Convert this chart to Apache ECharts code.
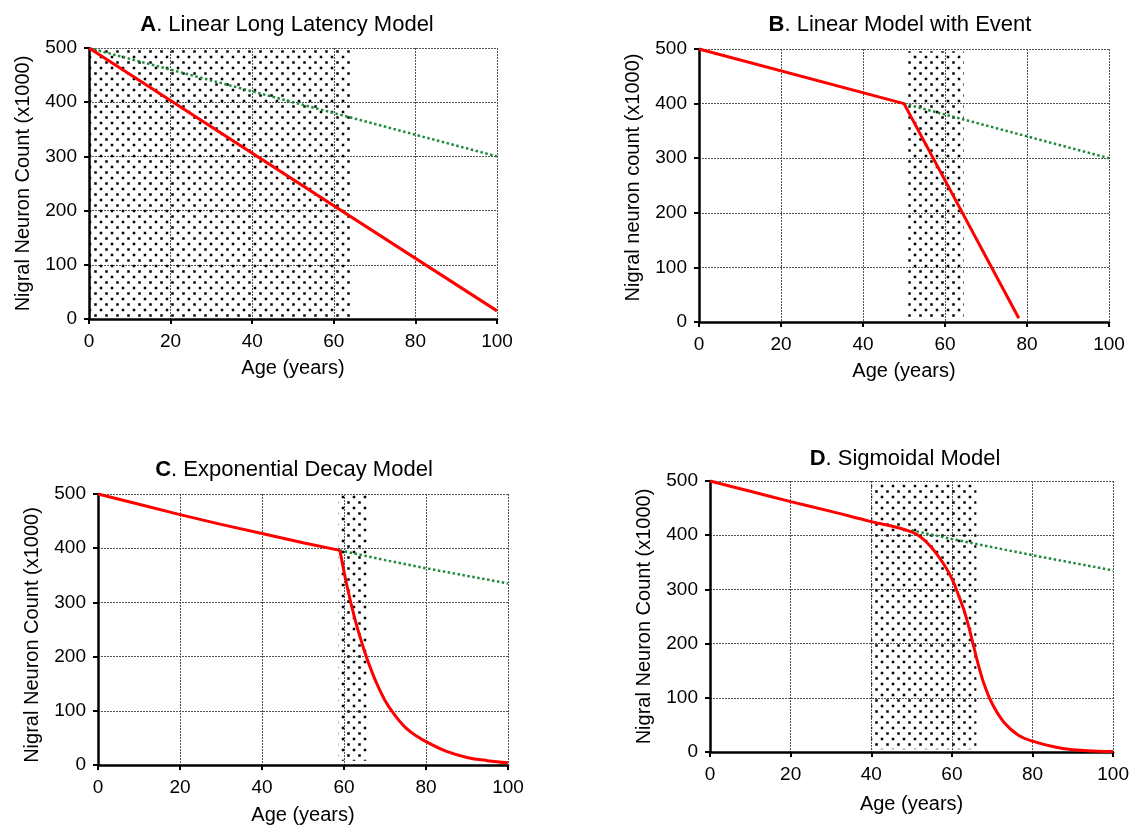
<!DOCTYPE html>
<html lang="en">
<head>
<meta charset="UTF-8">
<title>Nigral neuron loss models</title>
<script src="https://cdn.jsdelivr.net/npm/echarts@6.0.0/dist/echarts.min.js"></script>
<style>
    html, body { margin: 0; padding: 0; background: #fff; }
    #main { width: 1132px; height: 826px; }
</style>
</head>
<body>
<div id="main"></div>
<script type="text/javascript">
    // titles and axis texts
    var panelLetters = ['A', 'B', 'C', 'D'];
    var panelTitles = ['. Linear Long Latency Model', '. Linear Model with Event', '. Exponential Decay Model', '. Sigmoidal Model'];
    var yNames = ['Nigral Neuron Count (x1000)', 'Nigral neuron count (x1000)', 'Nigral Neuron Count (x1000)', 'Nigral Neuron Count (x1000)'];
    var xName = 'Age (years)';
    var xTicks = [0, 20, 40, 60, 80, 100];
    var yTicks = [0, 100, 200, 300, 400, 500];

    // A. linear long latency
    var redAgeA = [0, 100];
    var redValA = [500, 15];
    var greenAgeA = [0, 100];
    var greenValA = [500, 300];
    var shadeA = [0, 64, 3, 500];   // age from, age to, count from, count to

    // B. linear with event
    var redAgeB = [0, 50, 78];
    var redValB = [500, 400, 7];
    var greenAgeB = [50, 100];
    var greenValB = [400, 300];
    var shadeB = [51, 64.6, 5, 496];

    // C. exponential decay (before and after the event)
    var redAgeC1 = [0, 10, 20, 30, 40, 50, 59];
    var redValC1 = [500, 481, 462, 444, 427, 410, 396];
    var redAgeC2 = [59, 60, 61, 62, 63, 64, 65, 66, 68, 70, 72, 75, 78, 80, 85, 90, 95, 100];
    var redValC2 = [396, 357, 321, 289, 260, 234, 210, 188, 150, 119, 96, 69, 52, 43, 25, 14, 8, 4];
    var greenAgeC = [59, 70, 80, 90, 100];
    var greenValC = [396, 378, 363, 349, 335];
    var shadeC = [58.7, 66, 8, 499];

    // D. sigmoidal
    var redAgeD = [0, 10, 20, 30, 40, 45, 50, 52.5, 55, 57.5, 60, 62, 63, 64, 65, 66, 67, 68, 70, 73, 76.5, 80, 85, 90, 95, 100];
    var redValD = [500, 481, 462, 444, 425, 417, 406, 395, 377, 352, 320, 282, 262, 236, 207, 177, 149, 125, 89, 54, 31, 20, 10, 4, 2, 1];
    var greenAgeD = [50, 60, 70, 80, 90, 100];
    var greenValD = [409, 393, 378, 363, 349, 335];
    var shadeD = [40, 66.1, 5, 494];

    var FONT = '"Liberation Sans", Arial, sans-serif';
    var RED = '#ff0000';
    var GREEN = '#1f8a3c';

    // dotted fill used for the shaded age windows
    var tile = document.createElement('canvas');
    tile.width = 11;
    tile.height = 11;
    var tctx = tile.getContext('2d');
    tctx.fillStyle = '#000';
    tctx.fillRect(0.75, 0.75, 2.5, 2.5);
    tctx.fillRect(6.25, 6.25, 2.5, 2.5);

    function pairs(ages, vals) {
        var out = [];
        for (var i = 0; i < ages.length; i++) {
            out.push([ages[i], vals[i]]);
        }
        return out;
    }

    // pixel boxes of the four plots
    var grids = [
        {left: 89, top: 48, width: 408, height: 271},
        {left: 699, top: 49, width: 410, height: 273},
        {left: 98, top: 494, width: 410, height: 271},
        {left: 710, top: 481, width: 406, height: 271}
    ];
    var titlePos = [[287, 25], [900, 25], [294, 470], [905, 459]];
    var yNamePad = [[0, 0, 0, 0], [0, 0, 0, 16], [0, 11, 0, 0], [0, 0, 0, 0]];
    var xNameGap = [39, 39, 40, 42];

    var titles = [], xAxes = [], yAxes = [];
    for (var i = 0; i < 4; i++) {
        titles.push({
            text: '{b|' + panelLetters[i] + '}' + panelTitles[i],
            left: titlePos[i][0],
            top: titlePos[i][1],
            textAlign: 'center',
            textVerticalAlign: 'middle',
            padding: 0,
            textStyle: {
                fontFamily: FONT, fontSize: 22, fontWeight: 'normal', color: '#000',
                rich: {b: {fontFamily: FONT, fontSize: 22, fontWeight: 'bold', color: '#000'}}
            }
        });
        xAxes.push({
            type: 'value', gridIndex: i,
            min: xTicks[0], max: xTicks[xTicks.length - 1], interval: xTicks[1] - xTicks[0],
            name: xName, nameLocation: 'middle', nameGap: xNameGap[i],
            nameTextStyle: {fontFamily: FONT, fontSize: 20, color: '#000'},
            axisLine: {show: true, onZero: false, lineStyle: {color: '#000', width: 2.5}},
            axisTick: {show: true, length: 5, lineStyle: {color: '#000', width: 2}},
            axisLabel: {fontFamily: FONT, fontSize: 19, color: '#000', margin: 13,
                showMinLabel: true, showMaxLabel: true, hideOverlap: false},
            splitLine: {show: true, lineStyle: {type: [2, 1], color: '#555', width: 1}}
        });
        yAxes.push({
            type: 'value', gridIndex: i,
            min: yTicks[0], max: yTicks[yTicks.length - 1], interval: yTicks[1] - yTicks[0],
            name: yNames[i], nameLocation: 'middle', nameGap: 56,
            nameTextStyle: {fontFamily: FONT, fontSize: 20, color: '#000', padding: yNamePad[i]},
            axisLine: {show: true, onZero: false, lineStyle: {color: '#000', width: 2.5}},
            axisTick: {show: true, length: 5, lineStyle: {color: '#000', width: 2}},
            axisLabel: {fontFamily: FONT, fontSize: 19, color: '#000', margin: 12,
                showMinLabel: true, showMaxLabel: true, hideOverlap: false},
            splitLine: {show: true, lineStyle: {type: [2, 1], color: '#555', width: 1}}
        });
    }

    function shadeArea(s) {
        return {
            silent: true,
            label: {show: false},
            itemStyle: {color: {image: tile, repeat: 'repeat'}, borderWidth: 0},
            data: [[{xAxis: s[0], yAxis: s[2]}, {xAxis: s[1], yAxis: s[3]}]]
        };
    }

    function redLine(idx, data, smooth, area) {
        var s = {
            type: 'line', xAxisIndex: idx, yAxisIndex: idx,
            data: data, symbol: 'none', smooth: smooth, z: 4,
            lineStyle: {color: RED, width: 3}, animation: false
        };
        if (area) s.markArea = area;
        return s;
    }

    function greenLine(idx, data) {
        return {
            type: 'line', xAxisIndex: idx, yAxisIndex: idx,
            data: data, symbol: 'none', z: 3,
            lineStyle: {color: GREEN, width: 2.5, type: [2.5, 2.5]}, animation: false
        };
    }

    var series = [
        greenLine(0, pairs(greenAgeA, greenValA)),
        redLine(0, pairs(redAgeA, redValA), false, shadeArea(shadeA)),
        greenLine(1, pairs(greenAgeB, greenValB)),
        redLine(1, pairs(redAgeB, redValB), false, shadeArea(shadeB)),
        greenLine(2, pairs(greenAgeC, greenValC)),
        redLine(2, pairs(redAgeC1, redValC1), false, shadeArea(shadeC)),
        redLine(2, pairs(redAgeC2, redValC2), 0.4, null),
        greenLine(3, pairs(greenAgeD, greenValD)),
        redLine(3, pairs(redAgeD, redValD), 0.4, shadeArea(shadeD))
    ];

    var chart = echarts.init(document.getElementById('main'), null, {renderer: 'canvas'});
    chart.setOption({
        animation: false,
        backgroundColor: '#fff',
        title: titles,
        grid: grids,
        xAxis: xAxes,
        yAxis: yAxes,
        series: series
    });
</script>
</body>
</html>
